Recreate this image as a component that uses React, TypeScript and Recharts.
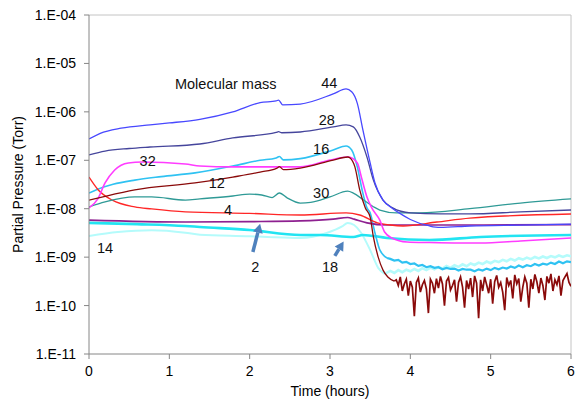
import React from 'react';
import { LineChart, Line, XAxis, YAxis, ReferenceLine, ReferenceDot, Label } from 'recharts';

// readings: [time (h), partial pressure (Torr)]
const mass44: [number, number][] = [
  [0, 2.75e-7], [0.14, 3.6e-7], [0.4, 4.6e-7], [0.76, 5.4e-7], [1.0, 5.9e-7], [1.38, 7.0e-7],
  [1.79, 1.0e-6], [2.13, 1.55e-6], [2.33, 1.68e-6], [2.36, 1.75e-6], [2.41, 1.4e-6], [2.63, 1.45e-6],
  [3.04, 2.35e-6], [3.2, 2.97e-6], [3.27, 2.6e-6], [3.34, 1.5e-6], [3.41, 4.2e-7], [3.5, 8.8e-8],
  [3.56, 3.4e-8], [3.66, 1.5e-8], [3.77, 1.04e-8], [3.87, 8.0e-9], [4.0, 6.0e-9], [4.24, 4.4e-9],
  [4.37, 4.1e-9], [4.74, 4.4e-9], [5.37, 4.6e-9], [6.0, 4.8e-9],
];

const mass28: [number, number][] = [
  [0, 1.29e-7], [0.2, 1.55e-7], [0.5, 1.75e-7], [0.76, 1.88e-7], [1.38, 2.17e-7], [1.79, 2.9e-7],
  [2.33, 3.75e-7], [2.36, 3.9e-7], [2.4, 3.7e-7], [2.63, 3.84e-7], [3.04, 4.9e-7], [3.2, 5.4e-7],
  [3.29, 4.9e-7], [3.37, 3.03e-7], [3.46, 1.17e-7], [3.54, 3.9e-8], [3.66, 1.51e-8], [3.78, 1.04e-8],
  [4.0, 8.2e-9], [4.37, 7.8e-9], [4.74, 7.8e-9], [5.37, 8.6e-9], [6.0, 9.4e-9],
];

const mass16: [number, number][] = [
  [0, 2.1e-8], [0.1, 2.5e-8], [0.3, 3.2e-8], [0.57, 3.9e-8], [0.9, 4.6e-8], [1.32, 5.5e-8],
  [1.79, 7.6e-8], [2.13, 1.0e-7], [2.33, 1.12e-7], [2.37, 1.2e-7], [2.42, 1.02e-7], [2.63, 1.08e-7],
  [3.04, 1.63e-7], [3.2, 1.97e-7], [3.27, 1.63e-7], [3.34, 7.3e-8], [3.4, 2.44e-8], [3.46, 1.04e-8],
  [3.5, 8.2e-9], [3.56, 3.15e-9], [3.62, 1.41e-9], [3.71, 9.6e-10],
];
// noisy tail after the drop, x1e-10 Torr, every 0.05 h from 3.75 h
const mass16Tail = [
  9.2, 8.5, 8.8, 7.7, 8.0, 7.2, 7.4, 6.6, 6.9, 6.2,
  6.5, 6.0, 6.2, 5.6, 6.0, 5.7, 5.8, 5.3, 5.7, 5.5,
  5.5, 5.1, 5.6, 5.3, 5.8, 5.4, 6.0, 5.6, 6.1, 5.8,
  6.4, 6.0, 6.7, 6.2, 6.8, 6.5, 7.2, 6.7, 7.3, 7.0,
  7.7, 7.2, 8.1, 7.5, 8.2, 7.9,
];

const mass12: [number, number][] = [
  [0, 1.5e-8], [0.2, 1.8e-8], [0.57, 2.44e-8], [1.32, 3.4e-8], [1.79, 4.5e-8], [2.13, 5.7e-8],
  [2.34, 6.9e-8], [2.37, 7.4e-8], [2.42, 6.4e-8], [2.63, 6.9e-8], [3.04, 1.01e-7], [3.22, 1.17e-7],
  [3.25, 1.12e-7], [3.31, 7.3e-8], [3.37, 2.44e-8], [3.44, 1.04e-8], [3.5, 6.7e-9], [3.54, 2.61e-9],
  [3.6, 1.0e-9], [3.66, 5.4e-10], [3.72, 3.9e-10], [3.8, 3.2e-10],
];
// noisy tail, x1e-10 Torr, every 0.025 h from 3.825 h
const mass12Tail = [
  3.4, 2.6, 3.9, 2.0, 2.8, 3.5, 1.6, 3.2, 2.4, 0.6,
  3.0, 3.7, 1.9, 2.7, 3.3, 2.2, 0.7, 3.5, 2.9, 1.8,
  3.6, 2.3, 4.0, 2.8, 1.0, 3.2, 3.8, 2.1, 2.6, 3.4,
  1.2, 3.0, 3.9, 2.4, 0.9, 3.3, 2.2, 3.7, 1.5, 4.1,
  2.9, 0.55, 3.4, 2.0, 3.9, 2.7, 1.8, 3.5, 1.1, 3.1,
  4.2, 2.4, 3.0, 1.9, 0.8, 3.8, 2.6, 3.3, 1.4, 4.3,
  2.8, 3.6, 1.2, 2.4, 3.9, 2.9, 0.9, 3.5, 2.2, 4.4,
  3.1, 1.8, 3.7, 2.6, 1.3, 4.0, 2.9, 4.5, 2.0, 3.4,
  2.7, 4.1, 1.6, 3.3, 3.9, 4.6, 3.0, 2.5,
];

const mass32: [number, number][] = [
  [0, 1.04e-8], [0.11, 1.6e-8], [0.2, 3.4e-8], [0.32, 6.3e-8], [0.49, 8.8e-8], [0.66, 9.2e-8],
  [1.2, 8.4e-8], [1.38, 7.6e-8], [1.79, 7.3e-8], [2.63, 7.3e-8], [3.0, 1.01e-7], [3.22, 1.17e-7],
  [3.25, 1.15e-7], [3.34, 8.8e-8], [3.4, 3.9e-8], [3.46, 1.75e-8], [3.52, 1.04e-8], [3.62, 5.8e-9],
  [3.68, 3.3e-9], [3.77, 2.49e-9], [3.96, 2.06e-9], [4.24, 2.0e-9], [4.62, 1.96e-9], [4.87, 1.96e-9],
  [5.37, 2.16e-9], [6.0, 2.49e-9],
];

const mass30: [number, number][] = [
  [0, 1.09e-8], [0.2, 1.38e-8], [0.57, 1.75e-8], [0.78, 1.75e-8], [1.2, 1.51e-8], [1.38, 1.6e-8],
  [1.79, 1.83e-8], [2.0, 2.0e-8], [2.15, 1.92e-8], [2.28, 1.7e-8], [2.37, 2.11e-8], [2.47, 1.66e-8],
  [2.63, 1.31e-8], [2.76, 1.35e-8], [3.0, 1.75e-8], [3.22, 2.3e-8], [3.29, 2.1e-8], [3.41, 1.55e-8],
  [3.54, 1.1e-8], [3.62, 9.4e-9], [3.83, 8.2e-9], [4.12, 8.2e-9], [4.74, 1.0e-8], [5.37, 1.31e-8],
  [6.0, 1.59e-8],
];

const mass4: [number, number][] = [
  [0, 4.5e-8], [0.11, 2.5e-8], [0.29, 1.5e-8], [0.57, 1.09e-8], [0.78, 9.9e-9], [1.2, 8.6e-9],
  [2.0, 8.0e-9], [2.63, 7.4e-9], [3.2, 8.2e-9], [3.37, 7.4e-9], [3.59, 5.1e-9], [3.75, 4.6e-9],
  [3.91, 4.4e-9], [4.33, 5.3e-9], [4.74, 6.4e-9], [6.0, 7.8e-9],
];

const mass2: [number, number][] = [
  [0, 5.8e-9], [1.2, 5.3e-9], [2.0, 5.4e-9], [2.63, 5.6e-9], [3.04, 6.1e-9], [3.22, 6.6e-9],
  [3.3, 6.1e-9], [3.46, 5.1e-9], [3.71, 4.6e-9], [4.5, 4.6e-9], [6.0, 4.7e-9],
];

const mass18: [number, number][] = [
  [0, 5.1e-9], [0.6, 4.8e-9], [1.2, 4.4e-9], [1.38, 4.2e-9], [2.0, 3.64e-9], [2.63, 2.87e-9],
  [2.88, 2.87e-9], [3.29, 2.61e-9], [3.41, 2.87e-9], [3.71, 2.49e-9], [4.24, 2.26e-9],
  [4.87, 2.61e-9], [6.0, 2.87e-9],
];

const mass14: [number, number][] = [
  [0, 2.73e-9], [0.36, 3.3e-9], [0.78, 3.6e-9], [1.2, 3.2e-9], [1.38, 2.9e-9], [2.0, 2.7e-9],
  [2.22, 2.61e-9], [2.63, 2.49e-9], [2.96, 3.15e-9], [3.15, 4.3e-9], [3.22, 5.1e-9], [3.3, 4.6e-9],
  [3.38, 3.3e-9], [3.5, 1.4e-9], [3.6, 6.0e-10], [3.68, 4.5e-10],
];
// x1e-10 Torr, every 0.05 h from 3.75 h
const mass14Tail = [
  5.2, 4.7, 5.4, 4.9, 5.5, 5.1, 5.7, 5.2, 5.9, 5.4,
  6.1, 5.6, 6.3, 5.8, 6.6, 6.0, 6.8, 6.3, 7.1, 6.5,
  7.4, 6.9, 7.7, 7.2, 8.1, 7.5, 8.4, 7.9, 8.8, 8.2,
  9.2, 8.5, 9.5, 8.9, 9.8, 9.1, 10.1, 9.4, 10.3, 9.6,
  10.5, 9.9, 10.8, 10.1, 10.9, 10.4,
];

const xTicks = [0, 1, 2, 3, 4, 5, 6];
const yTicks = [1e-11, 1e-10, 1e-9, 1e-8, 1e-7, 1e-6, 1e-5, 1e-4];

// annotation text: [label, time, pressure]
const labels: [string, number, number][] = [
  ['44', 2.99, 3.95e-6], ['28', 2.96, 6.8e-7], ['16', 2.89, 1.71e-7], ['12', 1.59, 3.4e-8],
  ['32', 0.73, 9.66e-8], ['30', 2.89, 2.11e-8], ['4', 1.73, 9.4e-9], ['14', 0.2, 1.55e-9],
  ['2', 2.07, 6.3e-10], ['18', 3.0, 6.3e-10],
];
const titleNote: [string, number, number] = ['Molecular mass', 1.07, 3.76e-6];

// arrows: [tail time, tail p, tip time, tip p]
const arrows: [number, number, number, number][] = [
  [2.04, 1.28e-9, 2.13, 4.9e-9],
  [3.06, 1.06e-9, 3.17, 2.1e-9],
];

const pts = (pairs: [number, number][]) => pairs.map(([t, v]) => ({ t, v }));
const tailPts = (pairs: [number, number][], start: number, step: number, tail: number[]) => [
  pts(pairs)[pairs.length - 1],
  ...tail.map((v, i) => ({ t: +(start + i * step).toFixed(3), v: v * 1e-10 })),
];

type Series = {
  id: string;
  data: { t: number; v: number }[];
  tail?: { t: number; v: number }[];
  color: string;
  width: number;
  tailWidth?: number;
};

const series: Series[] = [
  { id: '14', data: pts(mass14), tail: tailPts(mass14, 3.75, 0.05, mass14Tail), color: '#b4fbfb', width: 2, tailWidth: 2.6 },
  { id: '18', data: pts(mass18), color: '#22e4f2', width: 2.6 },
  { id: '16', data: pts(mass16), tail: tailPts(mass16, 3.75, 0.05, mass16Tail), color: '#2fc2f2', width: 1.6, tailWidth: 2.2 },
  { id: '2', data: pts(mass2), color: '#8e2090', width: 1.6 },
  { id: '4', data: pts(mass4), color: '#ff2626', width: 1.4 },
  { id: '30', data: pts(mass30), color: '#2f9a96', width: 1.3 },
  { id: '32', data: pts(mass32), color: '#ff3cff', width: 1.6 },
  { id: '12', data: pts(mass12), tail: tailPts(mass12, 3.825, 0.025, mass12Tail), color: '#8a0a0a', width: 1.3, tailWidth: 1.7 },
  { id: '28', data: pts(mass28), color: '#45459c', width: 1.3 },
  { id: '44', data: pts(mass44), color: '#4848ff', width: 1.3 },
];

const FONT = '"Liberation Sans", Arial, sans-serif';

const formatExp = (v: number) => {
  const e = Math.round(Math.log10(v));
  const a = Math.abs(e);
  return `1.E${e < 0 ? '-' : '+'}${a < 10 ? '0' + a : a}`;
};

const ArrowShape = (p: any) => {
  const { x1, y1, x2, y2 } = p;
  const dx = x2 - x1;
  const dy = y2 - y1;
  const len = Math.hypot(dx, dy) || 1;
  const ux = dx / len;
  const uy = dy / len;
  const hl = 9;
  const hw = 5;
  const bx = x2 - ux * hl;
  const by = y2 - uy * hl;
  return (
    <g>
      <line x1={x1} y1={y1} x2={bx} y2={by} stroke="#4f81bd" strokeWidth={3.5} />
      <polygon
        points={`${x2},${y2} ${bx - uy * hw},${by + ux * hw} ${bx + uy * hw},${by - ux * hw}`}
        fill="#4f81bd"
      />
    </g>
  );
};

const textShape = (text: string, anchor: 'middle' | 'start') => (p: any) => (
  <text x={p.cx} y={p.cy} textAnchor={anchor} dominantBaseline="central" fontSize={14.5} fill="#111" fontFamily={FONT}>
    {text}
  </text>
);

const yTitle = (props: any) => {
  const vb = props.viewBox || {};
  const cy = (vb.y ?? 15) + (vb.height ?? 339) / 2;
  return (
    <text x={18} y={cy} transform={`rotate(-90 18 ${cy})`} textAnchor="middle" dominantBaseline="central" fontSize={14} fill="#000" fontFamily={FONT}>
      Partial Pressure (Torr)
    </text>
  );
};

export default function App() {
  return (
    <div style={{ position: 'absolute', left: 0, top: 0, background: '#fff' }}>
      <LineChart width={576} height={399} margin={{ top: 15, right: 5, bottom: 0, left: 0 }} style={{ fontFamily: FONT }}>
        <XAxis
          type="number"
          dataKey="t"
          domain={[0, 6]}
          ticks={xTicks}
          allowDataOverflow
          height={45}
          tickSize={5}
          tickMargin={7}
          stroke="#868686"
          tick={{ fill: '#000', fontSize: 14 }}
        >
          <Label value="Time (hours)" position="insideBottom" offset={3} fill="#000" fontSize={14} />
        </XAxis>
        <YAxis
          scale="log"
          domain={[1e-11, 1e-4]}
          ticks={yTicks}
          allowDataOverflow
          width={89}
          tickSize={5}
          tickMargin={8}
          stroke="#868686"
          tick={{ fill: '#000', fontSize: 14 }}
          tickFormatter={formatExp}
        >
          <Label content={yTitle} />
        </YAxis>
        <ReferenceLine y={1e-4} stroke="#c4c4c4" />
        <ReferenceLine x={6} stroke="#c4c4c4" />
        {series.flatMap((s) => {
          const lines = [
            <Line
              key={s.id}
              data={s.data}
              dataKey="v"
              type="monotone"
              stroke={s.color}
              strokeWidth={s.width}
              dot={false}
              activeDot={false}
              isAnimationActive={false}
            />,
          ];
          if (s.tail) {
            lines.push(
              <Line
                key={s.id + '-tail'}
                data={s.tail}
                dataKey="v"
                type="linear"
                stroke={s.color}
                strokeWidth={s.tailWidth ?? s.width}
                dot={false}
                activeDot={false}
                isAnimationActive={false}
              />
            );
          }
          return lines;
        })}
        {arrows.map(([t1, p1, t2, p2], i) => (
          <ReferenceLine key={'a' + i} segment={[{ x: t1, y: p1 }, { x: t2, y: p2 }]} shape={ArrowShape} />
        ))}
        {labels.map(([text, t, p]) => (
          <ReferenceDot key={'l' + text} x={t} y={p} r={0} shape={textShape(text, 'middle')} />
        ))}
        <ReferenceDot x={titleNote[1]} y={titleNote[2]} r={0} shape={textShape(titleNote[0], 'start')} />
      </LineChart>
    </div>
  );
}
